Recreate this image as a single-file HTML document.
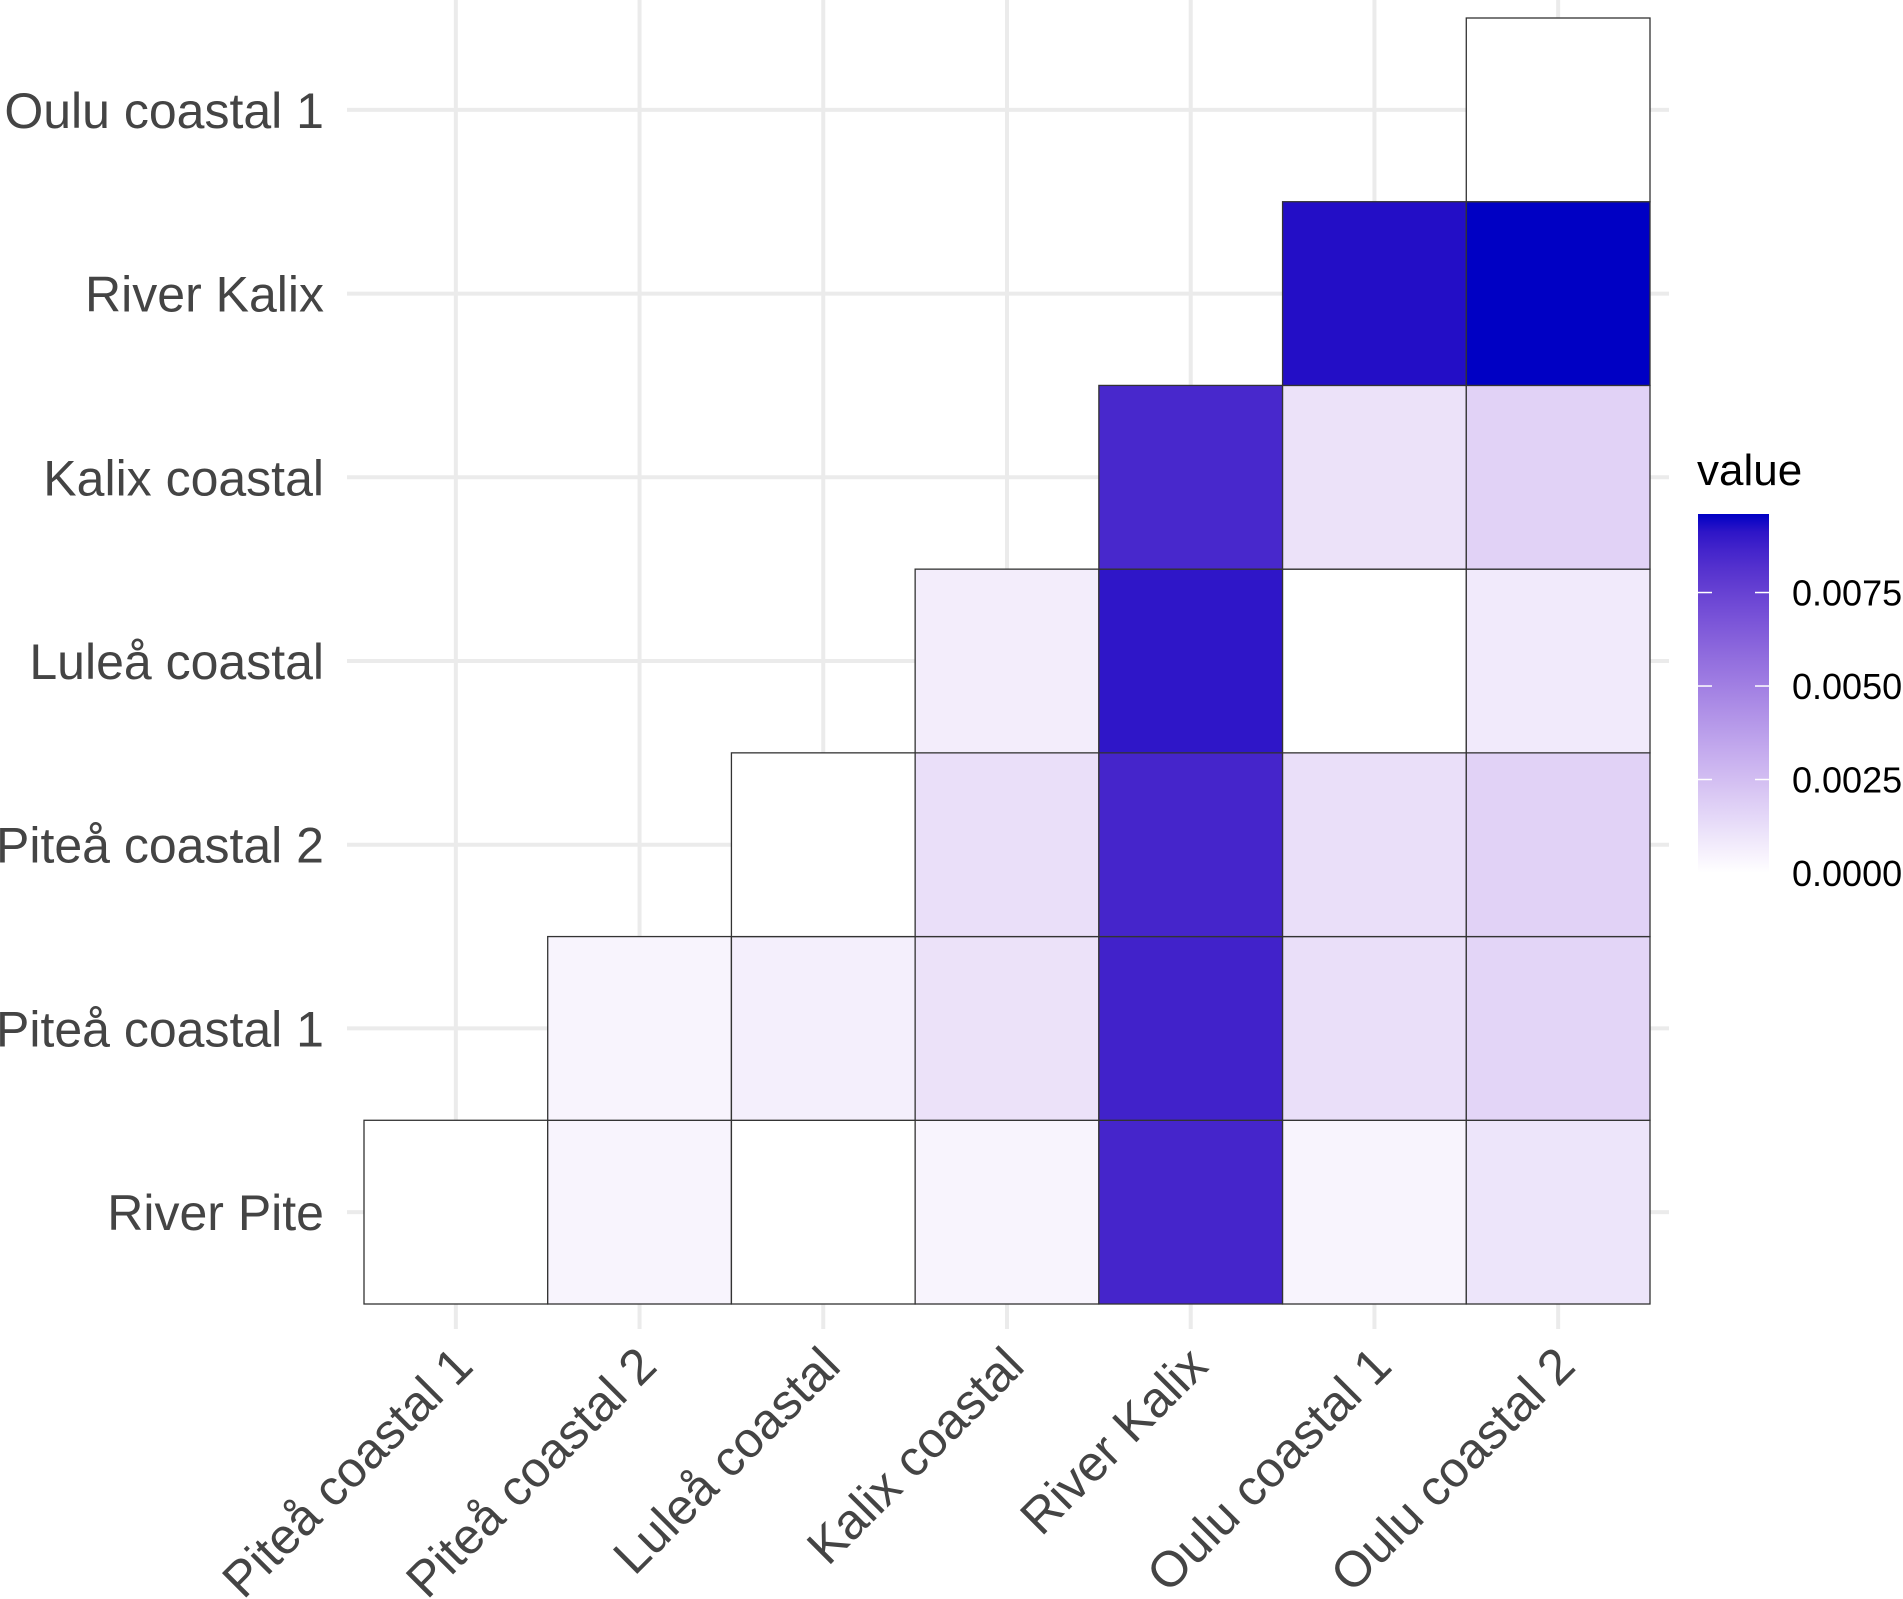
<!DOCTYPE html>
<html><head><meta charset="utf-8">
<style>
html,body{margin:0;padding:0;background:#fff;}
svg{display:block;font-family:"Liberation Sans",Arial,sans-serif;}
</style></head>
<body>
<svg id="chart" width="1903" height="1599" viewBox="0 0 1903 1599" xmlns="http://www.w3.org/2000/svg">
<g id="grid"></g>
<g id="cells"></g>
<g id="ylabels"></g>
<g id="xlabels"></g>
<g id="legend">
<defs><linearGradient id="lg" x1="0" y1="1" x2="0" y2="0"></linearGradient></defs>
<text x="1697" y="485" font-size="44" fill="#000">value</text>
</g>
</svg>
<script>
var xCategories = ["Piteå coastal 1","Piteå coastal 2","Luleå coastal","Kalix coastal","River Kalix","Oulu coastal 1","Oulu coastal 2"];
var yCategories = ["River Pite","Piteå coastal 1","Piteå coastal 2","Luleå coastal","Kalix coastal","River Kalix","Oulu coastal 1"];
// values[row][col]; null = empty (rows bottom to top)
var rowRiverPite   = [0, 0.0004, 0, 0.0004, 0.0086, 0.0004, 0.0010];
var rowPitea1      = [null, 0.0004, 0.0006, 0.0011, 0.0087, 0.0012, 0.0016];
var rowPitea2      = [null, null, 0, 0.0012, 0.0086, 0.0012, 0.0017];
var rowLulea       = [null, null, null, 0.0007, 0.0091, 0, 0.0008];
var rowKalixC      = [null, null, null, null, 0.0085, 0.0011, 0.0017];
var rowRiverKalix  = [null, null, null, null, null, 0.0093, 0.0096];
var rowOulu1       = [null, null, null, null, null, null, 0];
var legendTicks = [0, 0.0025, 0.005, 0.0075];
var legendTickLabels = ["0.0000","0.0025","0.0050","0.0075"];
var valueMax = 0.0096;

var rows = [rowRiverPite,rowPitea1,rowPitea2,rowLulea,rowKalixC,rowRiverKalix,rowOulu1];
var NS="http://www.w3.org/2000/svg";
var pLeft=364, pRight=1650, pTop=18, pBottom=1304;
var cw=(pRight-pLeft)/xCategories.length, ch=(pBottom-pTop)/yCategories.length;
function xPos(i){return pLeft+i*cw;}
function yPos(j){return pBottom-(j+1)*ch;}
function mk(t,a,p){var e=document.createElementNS(NS,t);for(var k in a)e.setAttribute(k,a[k]);p.appendChild(e);return e;}
function toLin(c){c/=255;return c<=0.04045?c/12.92:Math.pow((c+0.055)/1.055,2.4);}
function fromLin(c){c=c<=0.0031308?12.92*c:1.055*Math.pow(c,1/2.4)-0.055;return Math.max(0,Math.min(255,Math.round(c*255)));}
function rgb2lab(r,g,b){r=toLin(r);g=toLin(g);b=toLin(b);
var X=(r*0.4124+g*0.3576+b*0.1805)/0.95047,Y=r*0.2126+g*0.7152+b*0.0722,Z=(r*0.0193+g*0.1192+b*0.9505)/1.08883;
function f(t){return t>0.008856?Math.cbrt(t):7.787*t+16/116;}
return [116*f(Y)-16,500*(f(X)-f(Y)),200*(f(Y)-f(Z))];}
function lab2rgb(L,a,b){var fy=(L+16)/116,fx=fy+a/500,fz=fy-b/200;
function fi(t){return t*t*t>0.008856?t*t*t:(t-16/116)/7.787;}
var X=fi(fx)*0.95047,Y=fi(fy),Z=fi(fz)*1.08883;
var r=X*3.2406+Y*-1.5372+Z*-0.4986,g=X*-0.9689+Y*1.8758+Z*0.0415,bb=X*0.0557+Y*-0.2040+Z*1.0570;
return "rgb("+fromLin(r)+","+fromLin(g)+","+fromLin(bb)+")";}
var LW=rgb2lab(255,255,255), LB=rgb2lab(0,0,196);
function color(v){var t=Math.max(0,Math.min(1,v/valueMax));
return lab2rgb(LW[0]+(LB[0]-LW[0])*t,LW[1]+(LB[1]-LW[1])*t,LW[2]+(LB[2]-LW[2])*t);}

var grid=document.getElementById('grid');
for(var i=0;i<xCategories.length;i++){
  var l=mk('line',{x1:xPos(i)+cw/2,x2:xPos(i)+cw/2,y1:0,y2:1329,stroke:'#ebebeb','stroke-width':4},grid);
  
  
}
for(var j=0;j<yCategories.length;j++){
  var l2=mk('line',{x1:347,x2:1669,y1:yPos(j)+ch/2,y2:yPos(j)+ch/2,stroke:'#ebebeb','stroke-width':4},grid);
  
  
}
var cells=document.getElementById('cells');
for(var j=0;j<rows.length;j++){for(var i=0;i<rows[j].length;i++){
  var v=rows[j][i]; if(v===null) continue;
  var r=mk('rect',{x:xPos(i),y:yPos(j),width:cw,height:ch,fill:color(v),stroke:'#333','stroke-width':1.3},cells);
  
  
}}
var yl=document.getElementById('ylabels');
for(var j=0;j<yCategories.length;j++){
  var t=mk('text',{x:324,y:yPos(j)+ch/2+18,'text-anchor':'end','font-size':50,fill:'#444'},yl);
  t.textContent=yCategories[j];
  
  
}
var xl=document.getElementById('xlabels');
for(var i=0;i<xCategories.length;i++){
  var cx=xPos(i)+cw/2-6;
  var t2=mk('text',{x:0,y:0,dy:'0.72em','text-anchor':'end','font-size':50,fill:'#444',transform:'translate('+cx+',1343) rotate(-45)'},xl);
  t2.textContent=xCategories[i];
  
  
}
var lg=document.getElementById('lg');
for(var k=0;k<=20;k++){mk('stop',{offset:(k/20),'stop-color':color(valueMax*k/20)},lg);}
var legend=document.getElementById('legend');
var lTop=514,lBot=873,lx=1698,lw=71;
function ly(v){return lBot-(v/valueMax)*(lBot-lTop);}
var bar=mk('rect',{x:lx,y:lTop,width:lw,height:lBot-lTop,fill:'url(#lg)'},legend);


for(var k=0;k<legendTicks.length;k++){
  var yy=ly(legendTicks[k]);
  if(k>0){
    var a=mk('line',{x1:lx,x2:lx+14,y1:yy,y2:yy,stroke:'#fff','stroke-width':1.5},legend);
    
    
    var b=mk('line',{x1:lx+lw-14,x2:lx+lw,y1:yy,y2:yy,stroke:'#fff','stroke-width':1.5},legend);
    
    
  }
  var tl=mk('text',{x:1792,y:yy+13,'font-size':36,fill:'#000'},legend);
  tl.textContent=legendTickLabels[k];
  
  
}
</script>
</body></html>
